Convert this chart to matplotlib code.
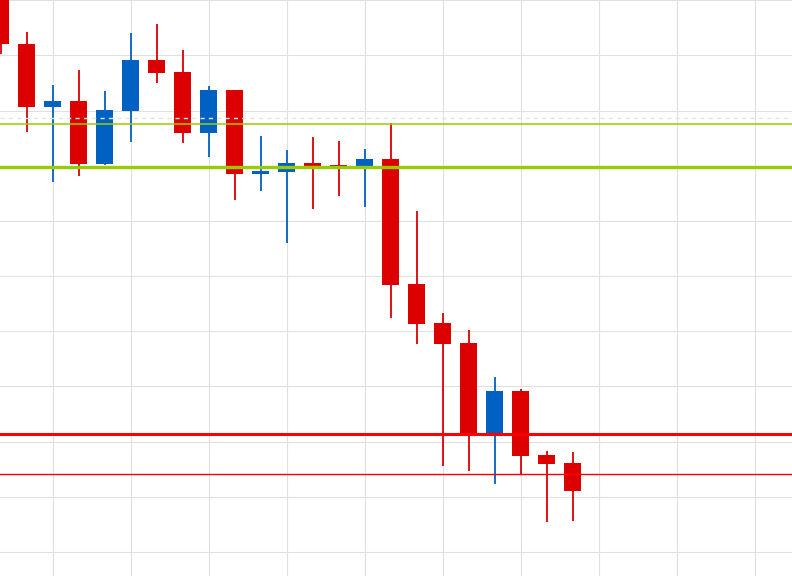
import matplotlib
matplotlib.use("Agg")
import matplotlib.pyplot as plt

# candle data (open, high, low, close), one per bar
opens  = [203.6, 192.0, 180.6, 181.7, 170.3, 179.9, 189.1, 187.0, 175.9, 183.7, 168.5, 168.8,
          170.5, 170.1, 169.9, 171.2, 148.6, 141.5, 137.9, 121.6, 129.2, 117.6, 116.1]
highs  = [205.4, 194.2, 184.6, 187.3, 183.5, 194.0, 195.7, 190.9, 184.4, 183.7, 175.4, 172.8,
          175.2, 174.5, 173.0, 177.7, 161.8, 143.3, 140.2, 131.7, 129.5, 118.3, 118.1]
lows   = [190.2, 176.1, 167.0, 168.1, 170.1, 174.3, 185.0, 174.1, 171.6, 163.8, 165.4, 156.0,
          162.1, 164.5, 162.5, 142.4, 137.7, 115.6, 114.7, 112.3, 114.1, 105.4, 105.6]
closes = [192.0, 180.6, 181.7, 170.3, 180.1, 189.1, 186.8, 175.9, 183.7, 168.5, 169.0, 170.5,
          169.8, 169.9, 171.2, 148.4, 141.3, 137.7, 121.4, 129.2, 117.4, 115.9, 111.1]

# horizontal levels
dashed_level = 178.75
green_thin = 177.5
green_thick = 169.75
red_thick = 121.4
red_thin = 114.1

up_color = "#0061c2"
down_color = "#dd0000"

fig = plt.figure(figsize=(7.92, 5.76), dpi=100)
ax = fig.add_axes([0, 0, 1, 1])

x = list(range(len(opens)))
colors = [up_color if c >= o else down_color for o, c in zip(opens, closes)]

ax.vlines(x, lows, highs, colors=colors, linewidth=1.3, zorder=2)
bottoms = [min(o, c) for o, c in zip(opens, closes)]
heights = [max(abs(c - o), 0.2) for o, c in zip(opens, closes)]
ax.bar(x, heights, bottom=bottoms, width=0.65, color=colors, linewidth=0, zorder=3)

ax.axhline(dashed_level, color="#e4e4e4", linewidth=1.0, linestyle=(0, (3, 3)), zorder=4)
ax.axhline(green_thin, color="#99cc00", linewidth=1.1, zorder=5)
ax.axhline(green_thick, color="#99cc00", linewidth=2.4, zorder=5)
ax.axhline(red_thick, color="#ff0000", linewidth=2.2, zorder=5)
ax.axhline(red_thin, color="#ff0000", linewidth=1.0, zorder=5)

ax.set_xlim(-0.02, 792 / 26 - 0.02)
ax.set_ylim(95.65, 200.05)
ax.set_xticks(range(2, 31, 3))
ax.set_yticks(range(100, 201, 10))
ax.grid(True, color="#e0e0e0", linewidth=0.8, zorder=0)
ax.set_axisbelow(True)
ax.tick_params(left=False, bottom=False, labelleft=False, labelbottom=False)
for s in ax.spines.values():
    s.set_visible(False)

fig.savefig("out.png", dpi=100)
